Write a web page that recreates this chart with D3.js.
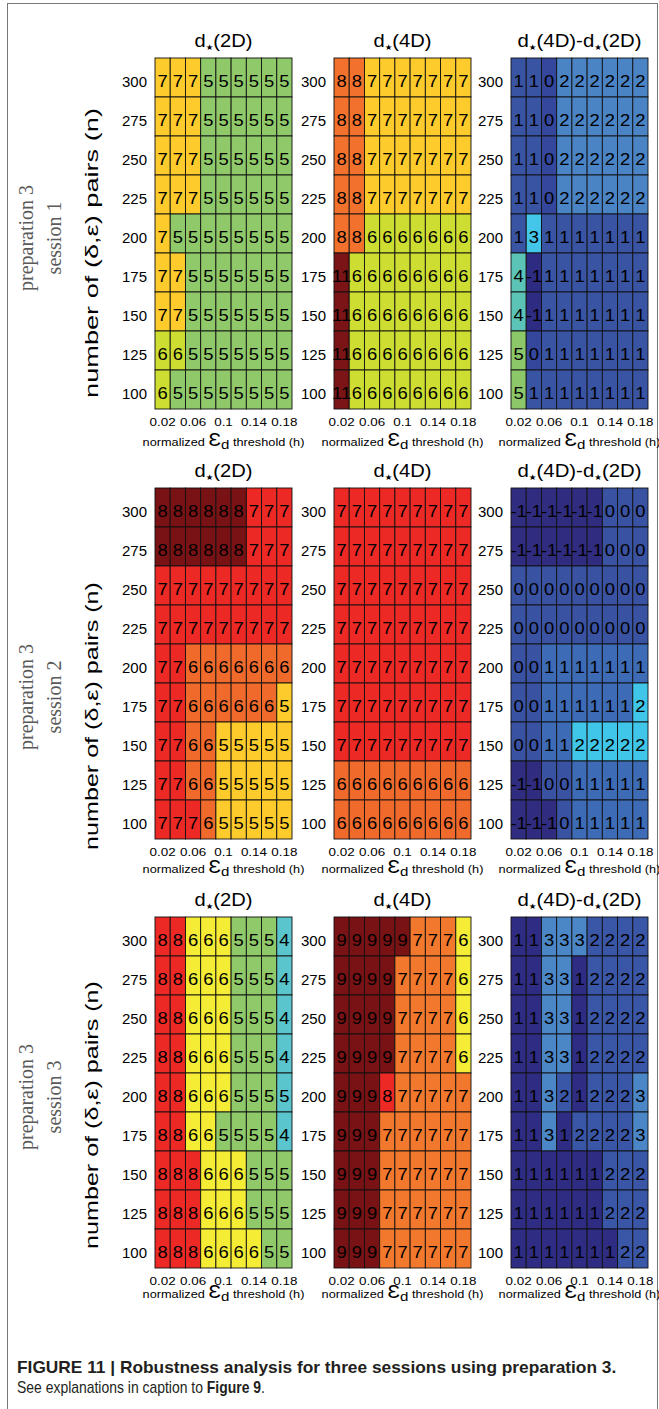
<!DOCTYPE html>
<html>
<head>
<meta charset="utf-8">
<script src="https://cdn.jsdelivr.net/npm/d3@7"></script>
<style>
  body { margin: 0; background: #fff; }
  svg { display: block; }
  text { font-family: "Liberation Sans", Arial, Helvetica, sans-serif; fill: #000; }
</style>
</head>
<body>
<svg width="659" height="1409"></svg>
<script>
'use strict'

// normalized threshold h (columns) and number of pairs n (rows, top to bottom)
const hValues = [0.02, 0.04, 0.06, 0.08, 0.1, 0.12, 0.14, 0.16, 0.18];
const nValues = [300, 275, 250, 225, 200, 175, 150, 125, 100];
const hTickValues = [0.02, 0.06, 0.1, 0.14, 0.18];
const hTickLabels = ['0.02', '0.06', '0.1', '0.14', '0.18'];
const sessionNames = ['session 1', 'session 2', 'session 3'];

// session 1
const d2D_s1 = [
    [7, 7, 7, 5, 5, 5, 5, 5, 5],
    [7, 7, 7, 5, 5, 5, 5, 5, 5],
    [7, 7, 7, 5, 5, 5, 5, 5, 5],
    [7, 7, 7, 5, 5, 5, 5, 5, 5],
    [7, 5, 5, 5, 5, 5, 5, 5, 5],
    [7, 7, 5, 5, 5, 5, 5, 5, 5],
    [7, 7, 5, 5, 5, 5, 5, 5, 5],
    [6, 6, 5, 5, 5, 5, 5, 5, 5],
    [6, 5, 5, 5, 5, 5, 5, 5, 5]
];
const d4D_s1 = [
    [8, 8, 7, 7, 7, 7, 7, 7, 7],
    [8, 8, 7, 7, 7, 7, 7, 7, 7],
    [8, 8, 7, 7, 7, 7, 7, 7, 7],
    [8, 8, 7, 7, 7, 7, 7, 7, 7],
    [8, 8, 6, 6, 6, 6, 6, 6, 6],
    [11, 6, 6, 6, 6, 6, 6, 6, 6],
    [11, 6, 6, 6, 6, 6, 6, 6, 6],
    [11, 6, 6, 6, 6, 6, 6, 6, 6],
    [11, 6, 6, 6, 6, 6, 6, 6, 6]
];
const diff_s1 = [
    [1, 1, 0, 2, 2, 2, 2, 2, 2],
    [1, 1, 0, 2, 2, 2, 2, 2, 2],
    [1, 1, 0, 2, 2, 2, 2, 2, 2],
    [1, 1, 0, 2, 2, 2, 2, 2, 2],
    [1, 3, 1, 1, 1, 1, 1, 1, 1],
    [4, -1, 1, 1, 1, 1, 1, 1, 1],
    [4, -1, 1, 1, 1, 1, 1, 1, 1],
    [5, 0, 1, 1, 1, 1, 1, 1, 1],
    [5, 1, 1, 1, 1, 1, 1, 1, 1]
];

// session 2
const d2D_s2 = [
    [8, 8, 8, 8, 8, 8, 7, 7, 7],
    [8, 8, 8, 8, 8, 8, 7, 7, 7],
    [7, 7, 7, 7, 7, 7, 7, 7, 7],
    [7, 7, 7, 7, 7, 7, 7, 7, 7],
    [7, 7, 6, 6, 6, 6, 6, 6, 6],
    [7, 7, 6, 6, 6, 6, 6, 6, 5],
    [7, 7, 6, 6, 5, 5, 5, 5, 5],
    [7, 7, 6, 6, 5, 5, 5, 5, 5],
    [7, 7, 7, 6, 5, 5, 5, 5, 5]
];
const d4D_s2 = [
    [7, 7, 7, 7, 7, 7, 7, 7, 7],
    [7, 7, 7, 7, 7, 7, 7, 7, 7],
    [7, 7, 7, 7, 7, 7, 7, 7, 7],
    [7, 7, 7, 7, 7, 7, 7, 7, 7],
    [7, 7, 7, 7, 7, 7, 7, 7, 7],
    [7, 7, 7, 7, 7, 7, 7, 7, 7],
    [7, 7, 7, 7, 7, 7, 7, 7, 7],
    [6, 6, 6, 6, 6, 6, 6, 6, 6],
    [6, 6, 6, 6, 6, 6, 6, 6, 6]
];
const diff_s2 = [
    [-1, -1, -1, -1, -1, -1, 0, 0, 0],
    [-1, -1, -1, -1, -1, -1, 0, 0, 0],
    [0, 0, 0, 0, 0, 0, 0, 0, 0],
    [0, 0, 0, 0, 0, 0, 0, 0, 0],
    [0, 0, 1, 1, 1, 1, 1, 1, 1],
    [0, 0, 1, 1, 1, 1, 1, 1, 2],
    [0, 0, 1, 1, 2, 2, 2, 2, 2],
    [-1, -1, 0, 0, 1, 1, 1, 1, 1],
    [-1, -1, -1, 0, 1, 1, 1, 1, 1]
];

// session 3 (the 4.5 cell is printed as 5 but coloured as 4 in the figure)
const d2D_s3 = [
    [8, 8, 6, 6, 6, 5, 5, 5, 4],
    [8, 8, 6, 6, 6, 5, 5, 5, 4],
    [8, 8, 6, 6, 6, 5, 5, 5, 4],
    [8, 8, 6, 6, 6, 5, 5, 5, 4],
    [8, 8, 6, 6, 6, 5, 5, 5, 4.5],
    [8, 8, 6, 6, 5, 5, 5, 5, 4],
    [8, 8, 8, 6, 6, 6, 5, 5, 5],
    [8, 8, 8, 6, 6, 6, 5, 5, 5],
    [8, 8, 8, 6, 6, 6, 6, 5, 5]
];
const d4D_s3 = [
    [9, 9, 9, 9, 9, 7, 7, 7, 6],
    [9, 9, 9, 9, 7, 7, 7, 7, 6],
    [9, 9, 9, 9, 7, 7, 7, 7, 6],
    [9, 9, 9, 9, 7, 7, 7, 7, 6],
    [9, 9, 9, 8, 7, 7, 7, 7, 7],
    [9, 9, 9, 7, 7, 7, 7, 7, 7],
    [9, 9, 9, 7, 7, 7, 7, 7, 7],
    [9, 9, 9, 7, 7, 7, 7, 7, 7],
    [9, 9, 9, 7, 7, 7, 7, 7, 7]
];
const diff_s3 = [
    [1, 1, 3, 3, 3, 2, 2, 2, 2],
    [1, 1, 3, 3, 1, 2, 2, 2, 2],
    [1, 1, 3, 3, 1, 2, 2, 2, 2],
    [1, 1, 3, 3, 1, 2, 2, 2, 2],
    [1, 1, 3, 2, 1, 2, 2, 2, 3],
    [1, 1, 3, 1, 2, 2, 2, 2, 3],
    [1, 1, 1, 1, 1, 1, 2, 2, 2],
    [1, 1, 1, 1, 1, 1, 2, 2, 2],
    [1, 1, 1, 1, 1, 1, 1, 2, 2]
];

// colour levels, one map per session (figure scales each session on its own)
const dimLevels = [[5, 6, 7, 8, 11], [5, 6, 7, 8], [4, 5, 6, 7, 8, 9]];
const dimColors = [
    ['#8fc96a', '#cddd31', '#fdcb2c', '#f1712d', '#7a1416'],
    ['#fdcb2c', '#f06a2c', '#ec2925', '#781214'],
    ['#5ac5cc', '#8fc96a', '#f4ec35', '#f2782d', '#ec2925', '#781214']
];
const diffLevels = [[-1, 0, 1, 2, 3, 4, 5], [-1, 0, 1, 2], [1, 2, 3]];
const diffColors = [
    ['#2e2c82', '#34479d', '#3a54a4', '#4a84c5', '#43c6ea', '#5cc4b6', '#8cc86a'],
    ['#302c80', '#3a52a2', '#3d6bb5', '#40c6e8'],
    ['#2f2d83', '#3a56a6', '#4b87c7']
];

const grid = [
    [d2D_s1, d4D_s1, diff_s1],
    [d2D_s2, d4D_s2, diff_s2],
    [d2D_s3, d4D_s3, diff_s3]
];

// layout
const panelX = [155, 334, 511],
    panelW = 137,
    rowY = [58, 488, 917],
    panelH = 351,
    xLabelOffset = [37, 34, 30],
    yLabelCenter = [253, 716, 1115],
    yLabelLength = [290, 268, 268],
    prepCenter = [238, 697, 1097];

let svg = d3.select('svg');

// thin frame round the figure
svg.append('rect')
    .attr('x', 7.5).attr('y', 3.5)
    .attr('width', 650).attr('height', 1420)
    .attr('fill', 'none')
    .attr('stroke', '#777')
    .attr('stroke-width', 1);

// squeeze/stretch a text group to a measured width
function fitWidth(g, text, target) {
    let w = text.node().getBBox().width;
    let tr = g.attr('transform');
    g.attr('transform', tr + ' scale(' + (target / w) + ',1)');
}

function addTitle(g, cx, y, parts, target) {
    let tg = g.append('g').attr('transform', 'translate(' + cx + ',' + y + ')');
    let t = tg.append('text').attr('text-anchor', 'middle').style('font-size', '19px');
    parts.forEach((p, i) => {
        if (i > 0) t.append('tspan').text('-');
        t.append('tspan').text('d');
        t.append('tspan').text('\u2605')
            .style('font-family', '"DejaVu Sans", sans-serif')
            .style('font-size', '8px')
            .attr('dy', 3);
        t.append('tspan').text('(' + p + ')').attr('dy', -3);
    });
    fitWidth(tg, t, target);
}

function drawPanel(r, c) {
    let matrix = grid[r][c];
    let x0 = panelX[c], y0 = rowY[r];

    let color = d3.scaleOrdinal()
        .domain(c < 2 ? dimLevels[r] : diffLevels[r])
        .range(c < 2 ? dimColors[r] : diffColors[r]);

    let x = d3.scaleBand().domain(hValues).range([x0, x0 + panelW]);
    let y = d3.scaleBand().domain(nValues).range([y0, y0 + panelH]);

    let cells = matrix.flatMap((row, i) => row.map((v, j) => ({ n: nValues[i], h: hValues[j], v: v })));

    let g = svg.append('g');

    g.selectAll('rect.cell')
        .data(cells)
        .enter()
        .append('rect')
        .attr('class', 'cell')
        .attr('x', d => x(d.h))
        .attr('y', d => y(d.n))
        .attr('width', x.bandwidth())
        .attr('height', y.bandwidth())
        .attr('fill', d => color(Math.floor(d.v)))
        .attr('stroke', '#111')
        .attr('stroke-width', 0.9);

    g.selectAll('g.num')
        .data(cells)
        .enter()
        .append('g')
        .attr('class', 'num')
        .attr('transform', d => 'translate(' + (x(d.h) + x.bandwidth() / 2) + ',' + (y(d.n) + y.bandwidth() / 2 + 9) + ') scale(1.15,1)')
        .append('text')
        .attr('text-anchor', 'middle')
        .style('font-size', '16px')
        .text(d => Math.round(d.v));

    // y axis: n
    let ya = g.append('g')
        .attr('transform', 'translate(' + x0 + ',0)')
        .call(d3.axisLeft(y).tickSize(0).tickPadding(8));
    ya.select('.domain').remove();
    ya.selectAll('text').attr('dy', '0.6em').style('font-size', '15px').style('font-family', null);

    // x axis: h
    let xa = g.append('g')
        .attr('transform', 'translate(0,' + (y0 + panelH) + ')')
        .call(d3.axisBottom(x).tickValues(hTickValues).tickSize(0).tickPadding(9)
            .tickFormat((d, i) => hTickLabels[i]));
    xa.select('.domain').remove();
    xa.selectAll('text').style('font-size', '11px').style('font-family', null)
        .attr('transform', 'scale(1.22,1)');

    // x axis title
    let lg = g.append('g').attr('transform', 'translate(' + (x0 + panelW / 2) + ',' + (y0 + panelH + xLabelOffset[r]) + ')');
    let lt = lg.append('text').attr('text-anchor', 'middle').style('font-size', '11px');
    lt.append('tspan').text('normalized ');
    lt.append('tspan').text('\u0190').style('font-size', '18px');
    lt.append('tspan').text('d').style('font-size', '13px').attr('dy', 3);
    lt.append('tspan').text(' threshold (h)').attr('dy', -3);
    fitWidth(lg, lt, 162);

    // panel title
    if (c === 0) addTitle(g, x0 + panelW / 2, y0 - 11, ['2D'], 58);
    if (c === 1) addTitle(g, x0 + panelW / 2, y0 - 11, ['4D'], 58);
    if (c === 2) addTitle(g, x0 + panelW / 2, y0 - 11, ['4D', '2D'], 124);
}

for (let r = 0; r < 3; r++) {
    for (let c = 0; c < 3; c++) drawPanel(r, c);

    // y axis title
    let yg = svg.append('g').attr('transform', 'translate(91,' + yLabelCenter[r] + ') rotate(-90)');
    let yt = yg.append('text')
        .attr('text-anchor', 'middle')
        .attr('dy', '0.35em')
        .style('font-size', '19px')
        .text('number of (\u03B4,\u03B5) pairs (n)');
    fitWidth(yg, yt, yLabelLength[r]);

    // preparation / session label
    [['preparation 3', 27], [sessionNames[r], 55]].forEach(p => {
        svg.append('text')
            .attr('transform', 'translate(' + p[1] + ',' + prepCenter[r] + ') rotate(-90)')
            .attr('text-anchor', 'middle')
            .attr('dy', '0.3em')
            .style('font-family', '"Liberation Serif", "Times New Roman", serif')
            .style('font-size', '20px')
            .style('fill', '#5a5a5a')
            .text(p[0]);
    });
}

// caption
let c1 = svg.append('g').attr('transform', 'translate(17,1373)');
let ct1 = c1.append('text')
    .style('font-family', '"Liberation Sans Narrow", "Liberation Sans", Arial, sans-serif')
    .style('font-size', '16px')
    .style('font-weight', 'bold')
    .style('fill', '#231f20')
    .text('FIGURE 11 | Robustness analysis for three sessions using preparation 3.');
fitWidth(c1, ct1, 600);

let c2 = svg.append('g').attr('transform', 'translate(17,1393)');
let ct2 = c2.append('text')
    .style('font-family', '"Liberation Sans Narrow", "Liberation Sans", Arial, sans-serif')
    .style('font-size', '16px')
    .style('fill', '#231f20');
ct2.append('tspan').text('See explanations in caption to ');
ct2.append('tspan').text('Figure 9').style('font-weight', 'bold');
ct2.append('tspan').text('.');
fitWidth(c2, ct2, 248);
</script>
</body>
</html>
